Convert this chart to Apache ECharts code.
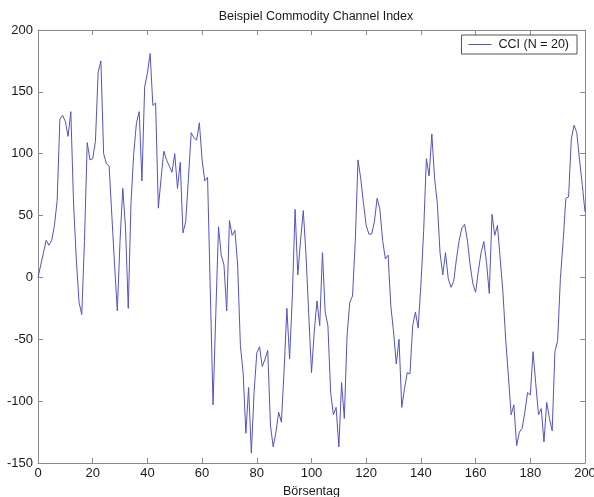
<!DOCTYPE html>
<html>
<head>
<meta charset="utf-8">
<script src="https://cdn.jsdelivr.net/npm/echarts@6/dist/echarts.min.js"></script>
<style>
  html, body { margin: 0; padding: 0; background: #fff; }
  #chart { width: 594px; height: 497px; }
</style>
</head>
<body>
<div id="chart"></div>
<script>
// Commodity Channel Index, one value per trading day (day 0 .. 200)
const cci = [
  0, 10, 20, 30, 26, 30, 42, 62, 128, 131,
  126, 114, 134, 60, 15, -20, -30, 30, 109, 95,
  96, 110, 166, 175, 100, 92, 90, 50, 10, -27,
  30, 72, 40, -25, 60, 100, 125, 134, 78, 154,
  165, 181, 139, 141, 56, 80, 102, 95, 90, 85,
  100, 72, 93, 36, 45, 80, 117, 113, 111, 125,
  95, 78, 81, -11, -103, -30, 41, 18, 10, -27,
  46, 34, 38, 10, -55, -77, -126, -89, -142, -93,
  -61, -56, -72, -66, -59, -120, -137, -125, -109, -117,
  -74, -25, -66, -15, 55, 2, 30, 54, 18, -30,
  -77, -44, -19, -39, 20, -28, -39, -93, -111, -105,
  -137, -85, -114, -47, -20, -15, 29, 95, 80, 60,
  42, 35, 35, 45, 64, 55, 30, 15, 18, -23,
  -44, -70, -50, -105, -90, -77, -78, -39, -28, -41,
  -6, 37, 96, 82, 116, 80, 60, 20, 2, 20,
  -1, -8, -3, 15, 30, 40, 43, 30, 10, -5,
  -12, 5, 20, 29, 12, -13, 51, 34, 42, 15,
  -12, -50, -80, -111, -103, -136, -125, -122, -109, -93,
  -95, -60, -86, -111, -106, -133, -101, -114, -124, -60,
  -51, -1, 29, 64, 65, 112, 123, 117, 95, 75,
  53
];

const xTicks = [0, 20, 40, 60, 80, 100, 120, 140, 160, 180, 200];
const yTicks = [-150, -100, -50, 0, 50, 100, 150, 200];

const seriesName = 'CCI (N = 20)';
const chartTitle = 'Beispiel Commodity Channel Index';
const xName = 'Börsentag';

const font = 'Liberation Sans, Arial, sans-serif';
const frame = '#8a8a8a';
const ink = '#1a1a1a';

const chart = echarts.init(document.getElementById('chart'), null, { renderer: 'canvas' });

// shared look of the four frame sides: grey line, short ticks pointing inward
function frameAxis(extra) {
  return Object.assign({
    type: 'value',
    axisLine: { show: true, onZero: false, lineStyle: { color: frame, width: 1 } },
    axisTick: { show: true, inside: true, length: 5, lineStyle: { color: frame } },
    splitLine: { show: false }
  }, extra);
}

chart.setOption({
  animation: false,
  backgroundColor: '#ffffff',
  title: {
    text: chartTitle,
    left: 311,
    textAlign: 'center',
    top: 5,
    textStyle: { fontFamily: font, fontSize: 12.5, fontWeight: 'normal', color: ink }
  },
  legend: {
    data: [seriesName],
    right: 17,
    top: 35,
    orient: 'vertical',
    backgroundColor: '#fff',
    borderColor: '#555',
    borderWidth: 1,
    borderRadius: 0,
    padding: [3, 8, 3, 7],
    icon: 'rect',
    itemWidth: 23,
    itemHeight: 1,
    itemGap: 0,
    textStyle: { fontFamily: font, fontSize: 12.5, color: ink, padding: [0, 0, 0, 2] }
  },
  // fixed plot box; labels and axis name sit outside it
  grid: { left: 38, right: 9, top: 30, bottom: 34, containLabel: false, outerBoundsMode: 'none' },
  xAxis: [
    frameAxis({
      position: 'bottom',
      min: xTicks[0], max: xTicks[xTicks.length - 1], interval: 20,
      name: xName,
      nameLocation: 'middle',
      nameGap: 22,
      nameTextStyle: { fontFamily: font, fontSize: 12.5, color: ink },
      axisLabel: { fontFamily: font, fontSize: 13, color: ink, margin: 4 }
    }),
    frameAxis({
      position: 'top',
      min: xTicks[0], max: xTicks[xTicks.length - 1], interval: 20,
      axisLabel: { show: false }
    })
  ],
  yAxis: [
    frameAxis({
      position: 'left',
      min: yTicks[0], max: yTicks[yTicks.length - 1], interval: 50,
      axisLabel: { fontFamily: font, fontSize: 13, color: ink, margin: 5 }
    }),
    frameAxis({
      position: 'right',
      min: yTicks[0], max: yTicks[yTicks.length - 1], interval: 50,
      axisLabel: { show: false }
    })
  ],
  series: [{
    name: seriesName,
    type: 'line',
    xAxisIndex: 0,
    yAxisIndex: 0,
    data: cci.map((v, i) => [i, v]),
    symbol: 'none',
    lineStyle: { color: '#5353c6', width: 1 },
    itemStyle: { color: '#5353c6' }
  }]
});
</script>
</body>
</html>
